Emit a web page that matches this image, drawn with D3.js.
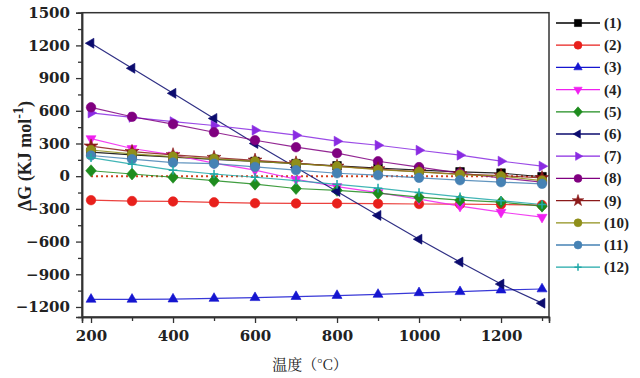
<!DOCTYPE html>
<html><head><meta charset="utf-8">
<script src="https://cdn.jsdelivr.net/npm/d3@7"></script>
<style>
body{margin:0;background:#fff;}
</style></head>
<body><svg id="c" width="640" height="378"></svg>
<script>
const temps = [200,300,400,500,600,700,800,900,1000,1100,1200,1300];
const names = ["(1)","(2)","(3)","(4)","(5)","(6)","(7)","(8)","(9)","(10)","(11)","(12)"];
const s1  = [220,195,175,155,135,115,95,75,55,40,28,-5];
const s2  = [-220,-228,-232,-240,-248,-250,-250,-252,-255,-257,-260,-265];
const s3  = [-1130,-1130,-1128,-1122,-1115,-1105,-1095,-1085,-1070,-1060,-1045,-1035];
const s4  = [345,254,195,120,55,-28,-95,-150,-210,-275,-330,-376];
const s5  = [50,20,-10,-40,-73,-113,-130,-156,-193,-220,-238,-275];
const s6  = [1220,990,760,530,300,80,-140,-360,-578,-788,-990,-1165];
const s7  = [580,540,500,465,422,376,321,284,238,193,138,92];
const s8  = [632,545,477,403,330,266,211,137,83,28,-15,-55];
const s9  = [275,225,195,170,145,120,90,65,40,20,5,-15];
const s10 = [240,205,180,160,135,115,90,60,40,15,0,-40];
const s11 = [190,156,125,115,85,55,27,9,-15,-37,-55,-70];
const s12 = [170,110,55,20,-10,-40,-75,-110,-150,-190,-225,-260];
const seriesVals = [s1,s2,s3,s4,s5,s6,s7,s8,s9,s10,s11,s12];
const colors = ["#000000","#e8201c","#1515d0","#f020f0","#1e8c1e","#0b0b6e","#8a2be2","#800080","#8b1a1a","#8f8f1a","#4682b4","#20a8a8"];
const symbols = ["square","circle","up","down","diamond","left","right","circle","star","circle","circle","plus"];
const yTicks = [-1200,-900,-600,-300,0,300,600,900,1200,1500];
const xTicks = [200,400,600,800,1000,1200];

const SERIF = "'Liberation Serif','DejaVu Serif',serif";
const WSERIF = "'DejaVu Serif','Liberation Serif',serif";
const svg = d3.select("#c");
const x = d3.scaleLinear().domain([178,1317]).range([82,549]);
const y = d3.scaleLinear().domain([-1292,1500]).range([317,12.7]);

function markerPath(sym, r){
  const tri = (a) => {
    const pts=[0,1,2].map(i=>{const t=a+i*2*Math.PI/3;return [r*1.2*Math.cos(t), r*1.2*Math.sin(t)];});
    return "M"+pts.map(p=>p.join(",")).join("L")+"Z";
  };
  switch(sym){
    case "square": return d3.symbol(d3.symbolSquare, r*r*3.2)();
    case "circle": return d3.symbol(d3.symbolCircle, r*r*3.1)();
    case "diamond": return `M0,${-r*1.25}L${r*1.1},0L0,${r*1.25}L${-r*1.1},0Z`;
    case "star": return d3.symbol(d3.symbolStar, r*r*2.6)();
    case "up": return tri(-Math.PI/2);
    case "down": return tri(Math.PI/2);
    case "left": return tri(Math.PI);
    case "right": return tri(0);
    case "plus": return `M${-r*0.9},0L${r*0.9},0M0,${-r*0.9}L0,${r*0.9}`;
  }
}

// zero reference dotted line
svg.append("line").attr("x1",x(200)).attr("x2",x(1300)).attr("y1",y(0)).attr("y2",y(0))
  .attr("stroke","#d2401e").attr("stroke-width",2).attr("stroke-dasharray","2,3");

// series
const line = d3.line().x((d,i)=>x(temps[i])).y(d=>y(d));
seriesVals.forEach((vals,k)=>{
  svg.append("path").datum(vals).attr("d",line).attr("fill","none")
    .attr("stroke",colors[k]).attr("stroke-width",1.2).attr("opacity",0.85);
});
seriesVals.forEach((vals,k)=>{
  svg.append("g").selectAll("path").data(vals).join("path")
    .attr("transform",(d,i)=>`translate(${x(temps[i])},${y(d)})`)
    .attr("d",markerPath(symbols[k],4.8))
    .attr("fill",symbols[k]==="plus"?"none":colors[k])
    .attr("stroke",colors[k]).attr("stroke-width",symbols[k]==="plus"?1.5:0.6);
});

// frame
svg.append("rect").attr("x",82).attr("y",12.7).attr("width",549-82).attr("height",317-12.7)
  .attr("fill","none").attr("stroke","#333").attr("stroke-width",1.5);

// axes
const xAxis = d3.axisBottom(x).tickValues(xTicks).tickSize(6).tickPadding(7).tickFormat(d3.format("d"));
svg.append("g").attr("transform","translate(0,317)").call(xAxis);
const xMinor = d3.axisBottom(x).tickValues([300,500,700,900,1100,1300]).tickSize(4).tickFormat("");
svg.append("g").attr("transform","translate(0,317)").call(xMinor);
const yAxis = d3.axisLeft(y).tickValues(yTicks).tickSize(6).tickPadding(6).tickFormat(d3.format("d"));
svg.append("g").attr("transform","translate(82,0)").call(yAxis);
const yMinor = d3.axisLeft(y).tickValues([-1050,-750,-450,-150,150,450,750,1050,1350]).tickSize(4).tickFormat("");
svg.append("g").attr("transform","translate(82,0)").call(yMinor);
svg.selectAll(".domain").attr("stroke","#333").attr("stroke-width",1.5);
svg.selectAll(".tick line").attr("stroke","#333").attr("stroke-width",1.3);
svg.selectAll(".tick text").attr("fill","#222")
  .style("font-family",WSERIF).style("font-weight","bold").style("font-size","15px");

// axis titles
svg.append("text").attr("x",310).attr("y",370).attr("text-anchor","middle")
  .attr("fill","#222")
  .style("font-family","'Noto Serif CJK SC','Noto Sans CJK SC',sans-serif").style("font-size","15px")
  .text("温度（°C）");
const yt = svg.append("text").attr("transform","translate(31,156) rotate(-90)")
  .attr("text-anchor","middle").attr("fill","#222")
  .style("font-family",SERIF).style("font-weight","bold").style("font-size","18px");
yt.append("tspan").text("ΔG (KJ mol");
yt.append("tspan").attr("dy",-8).style("font-size","14px").text("-1");
yt.append("tspan").attr("dy",8).text(")");

// legend
const lg = svg.append("g");
names.forEach((n,k)=>{
  const yy = 23 + k*22.2;
  lg.append("line").attr("x1",556).attr("x2",600).attr("y1",yy).attr("y2",yy)
    .attr("stroke",colors[k]).attr("stroke-width",1.3);
  lg.append("path").attr("transform",`translate(578,${yy})`).attr("d",markerPath(symbols[k],4))
    .attr("fill",symbols[k]==="plus"?"none":colors[k]).attr("stroke",colors[k])
    .attr("stroke-width",symbols[k]==="plus"?1.5:0.6);
  lg.append("text").attr("x",604).attr("y",yy+5).attr("fill","#222")
    .style("font-family",SERIF).style("font-weight","bold").style("font-size","15px").text(n);
});
</script></body></html>
